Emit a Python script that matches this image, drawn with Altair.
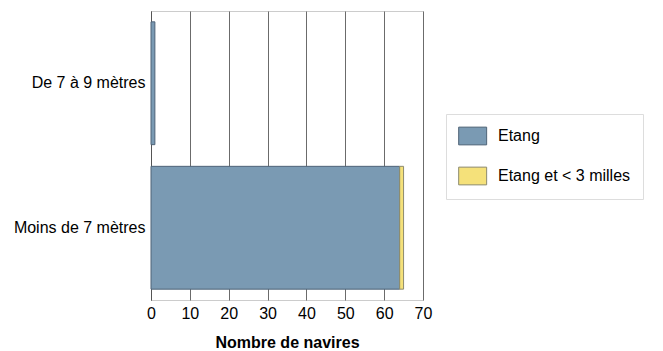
import altair as alt
import pandas as pd

categories = ["De 7 à 9 mètres", "Moins de 7 mètres"]
series = ["Etang", "Etang et < 3 milles"]
etang = [1, 64]
etang_3milles = [0, 1]
colors = ["#7a9ab3", "#f5e17a"]
strokes = ["#4f6377", "#8c8a6e"]
x_ticks = [0, 10, 20, 30, 40, 50, 60, 70]

rows = []
for cat, a, b in zip(categories, etang, etang_3milles):
    for s, v in zip(series, [a, b]):
        if v > 0:
            rows.append({"cat": cat, "serie": s, "n": v, "order": series.index(s)})
df = pd.DataFrame(rows)

FONT = "Liberation Sans"
FS = 16

chart = alt.Chart(df).mark_bar(strokeWidth=1).encode(
    y=alt.Y("cat:N", sort=categories, title=None,
            scale=alt.Scale(paddingInner=0.15, paddingOuter=0.075),
            axis=alt.Axis(domain=True, domainColor="#555555", ticks=False,
                          labelPadding=6, labelFontSize=FS, labelFont=FONT,
                          labelColor="#000000", grid=False, labelLimit=300)),
    x=alt.X("n:Q", stack="zero", title="Nombre de navires",
            scale=alt.Scale(domain=[0, 70], nice=False),
            axis=alt.Axis(values=x_ticks, domain=False, ticks=False, grid=True,
                          gridColor="#6b6b6b", gridWidth=1, labelPadding=5,
                          labelFlush=False,
                          labelFontSize=FS, labelFont=FONT, labelColor="#000000",
                          titleFont=FONT, titleFontSize=16, titleFontWeight="bold",
                          titlePadding=13, titleColor="#000000")),
    fill=alt.Fill("serie:N", scale=alt.Scale(domain=series, range=colors), title=None),
    stroke=alt.Stroke("serie:N", scale=alt.Scale(domain=series, range=strokes), title=None),
    order=alt.Order("order:Q"),
).properties(
    width=272, height=289,
    autosize=alt.AutoSizeParams(type="none"),
    padding={"left": 143, "top": 3, "right": 232, "bottom": 51},
).configure_view(
    stroke="#cccccc", strokeWidth=1
).configure_legend(
    orient="none", legendX=295, legendY=103,
    symbolType="M-1,-0.95H2V0.95H-1Z", symbolSize=348, symbolStrokeWidth=1,
    labelFont=FONT, labelFontSize=FS, labelColor="#000000", labelOffset=20,
    rowPadding=18, padding=12, strokeColor="#dddddd", fillColor="#ffffff",
    symbolOpacity=1,
)

chart.save("out.html", embed_options={"renderer": "svg", "actions": False})
